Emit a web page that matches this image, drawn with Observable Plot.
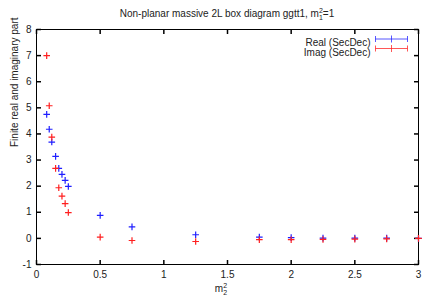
<!DOCTYPE html>
<html><head><meta charset="utf-8">
<script src="https://cdn.jsdelivr.net/npm/d3@7"></script>
<script src="https://cdn.jsdelivr.net/npm/@observablehq/plot@0.6"></script>
<style>
body{margin:0;background:#fff;}
svg{font-family:"Liberation Sans",Arial,Helvetica,sans-serif;}
</style>
</head><body><div id="chart"></div>
<script>
// ---- data ----
const m2 = [0.08, 0.1, 0.12, 0.15, 0.175, 0.2, 0.225, 0.25, 0.5, 0.75, 1.25, 1.75, 2, 2.25, 2.5, 2.75, 3];
const realPart = [4.75, 4.18, 3.69, 3.14, 2.68, 2.45, 2.22, 1.99, 0.88, 0.44, 0.14, 0.05, 0.03, 0.01, 0.01, 0.01, 0.0];
const imagPart = [7.0, 5.08, 3.88, 2.68, 1.94, 1.62, 1.33, 0.99, 0.05, -0.08, -0.12, -0.05, -0.05, -0.04, -0.03, -0.02, 0.0];
const xTicks = [0, 0.5, 1, 1.5, 2, 2.5, 3];
const yTicks = [-1, 0, 1, 2, 3, 4, 5, 6, 7, 8];
const seriesNames = ["Real (SecDec)", "Imag (SecDec)"];
const seriesColors = ["#1f1fff", "#ff1f1f"];
const yLabel = "Finite real and imaginary part";

const W = 436, H = 305;
const mL = 36, mR = 18, mT = 29, mB = 41;

const realRows = m2.map((x, i) => ({x, y: realPart[i]}));
const imagRows = m2.map((x, i) => ({x, y: imagPart[i]}));

const plusSym = {draw(ctx, size) {const r = Math.sqrt(size / Math.PI);
  ctx.moveTo(-r, 0); ctx.lineTo(r, 0); ctx.moveTo(0, -r); ctx.lineTo(0, r);}};
const tickDir = (dx, dy) => ({draw(ctx, size) {const r = Math.sqrt(size / Math.PI);
  ctx.moveTo(0, 0); ctx.lineTo(dx * r, dy * r);}});
const legendSym = {draw(ctx) {
  ctx.moveTo(-16, 0); ctx.lineTo(16, 0);
  ctx.moveTo(-16, -3); ctx.lineTo(-16, 3);
  ctx.moveTo(16, -3); ctx.lineTo(16, 3);
  ctx.moveTo(0, -3.5); ctx.lineTo(0, 3.5);}};

const legendMarks = seriesNames.flatMap((name, i) => [
  Plot.text([name], {frameAnchor: "top-right", dx: -48, dy: 9.5 + 9.5 * i, textAnchor: "end", fontSize: 10, fill: "#222"}),
  Plot.dot([name], {frameAnchor: "top-right", dx: -27, dy: 9.5 + 9.5 * i, symbol: legendSym, r: 3, fill: "none", stroke: seriesColors[i], strokeOpacity: 0.75, strokeWidth: 1})
]);

const chart = Plot.plot({
  width: W, height: H,
  marginLeft: mL, marginRight: mR, marginTop: mT, marginBottom: mB,
  style: {fontFamily: '"Liberation Sans",Arial,sans-serif', fontSize: "10px", background: "#fff"},
  x: {domain: [0, 3]},
  y: {domain: [-1, 8]},
  marks: [
    Plot.frame({stroke: "#000", strokeWidth: 1}),
    Plot.axisX(xTicks, {tickSize: 0, tickPadding: 6, label: null, tickFormat: d => String(d), fontSize: 10, fill: "#222"}),
    Plot.axisY(yTicks, {tickSize: 0, tickPadding: 5, label: null, tickFormat: d => String(d), fontSize: 10, fill: "#222"}),
    Plot.dot(yTicks, {y: d => d, frameAnchor: "left", symbol: tickDir(1, 0), r: 4.5, fill: "none", stroke: "#000"}),
    Plot.dot(yTicks, {y: d => d, frameAnchor: "right", symbol: tickDir(-1, 0), r: 4.5, fill: "none", stroke: "#000"}),
    Plot.dot(xTicks, {x: d => d, frameAnchor: "bottom", symbol: tickDir(0, -1), r: 4.5, fill: "none", stroke: "#000"}),
    Plot.dot(xTicks, {x: d => d, frameAnchor: "top", symbol: tickDir(0, 1), r: 4.5, fill: "none", stroke: "#000"}),
    Plot.text([yLabel], {frameAnchor: "left", dx: -22, rotate: -90, fontSize: 10, fill: "#222"}),
    Plot.dot(realRows, {x: "x", y: "y", symbol: plusSym, r: 3.3, fill: "none", stroke: seriesColors[0], strokeWidth: 1.2}),
    Plot.dot(imagRows, {x: "x", y: "y", symbol: plusSym, r: 3.3, fill: "none", stroke: seriesColors[1], strokeWidth: 1.2}),
    ...legendMarks
  ]
});
document.getElementById("chart").appendChild(chart);

// title and x label with stacked super/subscripts
const svg = d3.select(chart);
const cx = mL + (W - mL - mR) / 2;
const t = svg.append("text").attr("x", cx).attr("y", 17).attr("text-anchor", "middle")
  .attr("font-size", 10).attr("fill", "#222");
t.append("tspan").text("Non-planar massive 2L box diagram ggtt1, m");
t.append("tspan").attr("font-size", 7).attr("dy", -4).text("2");
t.append("tspan").attr("font-size", 7).attr("dx", -3.9).attr("dy", 7).text("1");
t.append("tspan").attr("dy", -3).text("=1");

const xl = svg.append("text").attr("x", cx - 6).attr("y", 292).attr("font-size", 10).attr("fill", "#222");
xl.append("tspan").text("m");
xl.append("tspan").attr("font-size", 7).attr("dy", -4).text("2");
xl.append("tspan").attr("font-size", 7).attr("dx", -3.9).attr("dy", 7).text("2");
</script>
</body></html>
